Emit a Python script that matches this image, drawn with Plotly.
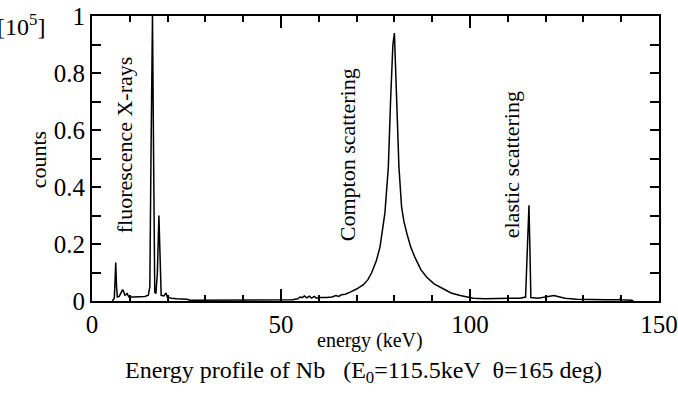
import plotly.graph_objects as go

# energy (keV) and counts (x 10^5)
energy = [5.4, 5.9, 6.1, 6.27, 6.5, 6.7, 7.2, 7.6, 7.85, 8.1, 8.4, 8.7, 9.0, 9.3, 9.6, 9.8,
          11.0, 12.7, 14.0, 14.9, 15.3, 15.6, 16.0, 16.3, 16.6, 16.9, 17.3, 17.7, 18.0, 18.3,
          19.0, 19.6, 19.9, 21.0, 22.4, 24.0, 25.1, 25.9, 28.0, 31.0, 35.0, 40.0, 45.0, 50.0,
          53.0, 54.5, 55.0, 55.6, 56.2, 56.8, 57.5, 58.1, 58.8, 59.4, 60.3, 62.0, 63.5, 64.5,
          65.3, 66.0, 67.0, 68.3, 70.0, 71.8, 73.0, 74.0, 75.2, 76.2, 77.0, 77.5, 78.0, 78.4,
          79.0, 79.6, 80.0, 80.3, 80.6, 81.2, 81.9, 82.5, 83.3, 84.3, 85.4, 87.0, 88.5, 90.5,
          92.9, 95.0, 97.4, 99.0, 100.9, 104.0, 107.9, 113.2, 114.7, 115.3, 115.6, 115.9, 116.1,
          118.0, 119.8, 121.0, 122.2, 123.5, 125.1, 128.2, 132.0, 136.0, 139.6, 139.8, 140.1,
          142.8, 143.2]
counts = [0.0, 0.01, 0.07, 0.135, 0.05, 0.014, 0.016, 0.028, 0.034, 0.04, 0.032, 0.02, 0.022,
          0.026, 0.018, 0.014,
          0.014, 0.014, 0.016, 0.02, 0.05, 0.5, 1.0, 0.5, 0.03, 0.026, 0.1, 0.30, 0.12, 0.02,
          0.018, 0.028, 0.014, 0.01, 0.008, 0.007, 0.006, 0.003, 0.003, 0.002, 0.002, 0.002,
          0.002, 0.003,
          0.004, 0.008, 0.014, 0.012, 0.018, 0.011, 0.017, 0.01, 0.016, 0.01, 0.012, 0.012,
          0.014, 0.019,
          0.016, 0.022, 0.024, 0.031, 0.042, 0.057, 0.075, 0.10, 0.14, 0.19, 0.26, 0.31, 0.40,
          0.47,
          0.706, 0.90, 0.94, 0.82, 0.706, 0.47, 0.33, 0.28, 0.237, 0.19, 0.154, 0.11, 0.084,
          0.06,
          0.043, 0.028, 0.019, 0.014, 0.01, 0.008, 0.008, 0.01, 0.014, 0.2, 0.336, 0.15, 0.012,
          0.01, 0.013, 0.017, 0.019, 0.015, 0.01, 0.006, 0.004, 0.004, 0.004, 0.01, 0.004,
          0.003, 0.0]

peak_labels = ["fluorescence X-rays", "Compton scattering", "elastic scattering"]
peak_label_x = [8.5, 67.5, 110.9]
peak_label_y = [0.547, 0.512, 0.477]

FONT = "Liberation Serif"

fig = go.Figure()
fig.add_trace(go.Scatter(x=energy, y=counts, mode="lines",
                         line=dict(color="black", width=1.5), hoverinfo="skip"))

annotations = []
for t, x, y in zip(peak_labels, peak_label_x, peak_label_y):
    annotations.append(dict(x=x, y=y, xref="x", yref="y", text=t, textangle=-90,
                            xanchor="center", yanchor="middle",
                            showarrow=False, font=dict(family=FONT, size=22, color="black")))

annotations += [
    dict(x=0.49, y=-0.138, xref="paper", yref="paper", text="energy (keV)", showarrow=False,
         xanchor="center", yanchor="middle",
         font=dict(family=FONT, size=20, color="black")),
    dict(x=0.478, y=-0.25, xref="paper", yref="paper",
         text="Energy profile of Nb &nbsp;&nbsp;(E<sub>0</sub>=115.5keV &nbsp;θ=165 deg)",
         xanchor="center", yanchor="middle",
         showarrow=False, font=dict(family=FONT, size=24, color="black")),
    dict(x=-0.095, y=0.494, xref="paper", yref="paper", text="counts", textangle=-90,
         xanchor="center", yanchor="middle",
         showarrow=False, font=dict(family=FONT, size=22, color="black")),
    dict(x=-0.0794, y=0.968, xref="paper", yref="paper", text="[10<sup>5</sup>]",
         xanchor="right", yanchor="middle", showarrow=False,
         font=dict(family=FONT, size=24, color="black")),
]

fig.update_layout(
    width=678, height=402,
    margin=dict(l=92, r=19, t=16, b=101, autoexpand=False),
    plot_bgcolor="white", paper_bgcolor="white",
    showlegend=False,
    annotations=annotations,
    xaxis=dict(range=[0, 150], tick0=0, dtick=50, ticks="inside", ticklen=12, tickwidth=1.5,
               tickcolor="black", showline=True, linecolor="black", linewidth=2, mirror="ticks",
               showgrid=False, zeroline=False, automargin=False,
               tickfont=dict(family=FONT, size=25, color="black"),
               minor=dict(dtick=10, ticks="inside", ticklen=6, tickwidth=1.5, tickcolor="black",
                          showgrid=False)),
    yaxis=dict(range=[0, 1], tick0=0, dtick=0.2, ticks="inside", ticklen=9, tickwidth=1.5,
               tickcolor="black", showline=True, linecolor="black", linewidth=2, mirror="ticks",
               showgrid=False, zeroline=False, automargin=False,
               tickfont=dict(family=FONT, size=25, color="black"),
               minor=dict(dtick=0.1, ticks="inside", ticklen=9, tickwidth=1.5, tickcolor="black",
                          showgrid=False)),
)

fig.write_html("out.html", config={"displayModeBar": False},
               post_script="document.body.style.margin='0';")
